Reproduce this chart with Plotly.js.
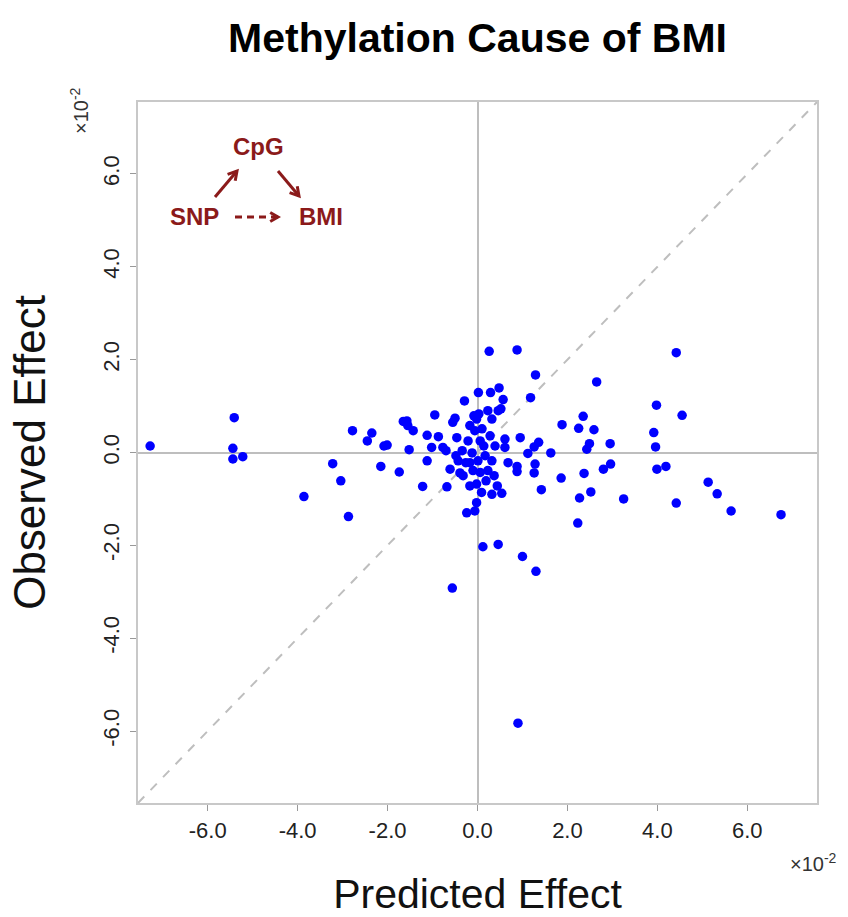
<!DOCTYPE html>
<html><head><meta charset="utf-8">
<script src="https://cdn.plot.ly/plotly-3.0.1.min.js"></script>
<style>html,body{margin:0;padding:0;background:#fff}#chart{width:848px;height:917px}</style>
</head><body><div id="chart"></div>
<script>
// values in units of 1e-2
const predicted = [-7.28,-5.41,-5.44,-5.44,-5.22,-3.86,-3.22,-3.04,-2.87,-2.78,-2.35,-2.45,-2.08,-2.01,-2.15,-1.74,-1.65,-1.57,-1.55,-1.43,-1.52,-1.22,-1.12,-0.95,-1.02,-0.87,-1.12,-0.77,-0.70,-0.68,-0.61,-0.56,-0.50,-0.55,-0.46,-0.43,-0.29,-0.24,-0.06,-0.02,0.12,0.46,1.00,1.30,0.90,0.02,0.29,0.48,0.57,0.26,0.88,1.29,1.18,0.46,0.52,0.03,-0.02,0.32,0.95,0.61,0.61,1.36,1.26,1.12,1.63,0.88,0.88,1.28,1.26,1.86,1.42,0.54,0.32,0.44,1.88,2.25,2.35,2.59,2.65,2.49,2.43,2.95,2.37,2.80,2.96,2.52,2.27,2.23,3.25,3.92,3.98,3.96,3.99,4.19,4.42,4.55,4.42,5.13,5.33,5.64,6.75,-0.32,-0.10,0.06,0.23,-0.02,0.09,-0.17,-0.06,0.10,-0.21,0.06,0.28,0.39,-0.34,-0.12,0.17,0.01,0.32,-0.26,-0.39,0.37,0.19,-0.17,0.14,-0.08,0.23,-0.48,-0.17,0.68];
const observed = [0.14,0.75,0.09,-0.14,-0.09,-0.95,-0.24,-0.61,-1.38,0.47,0.42,0.25,0.14,0.16,-0.30,-0.42,0.67,0.68,0.58,0.47,0.06,-0.73,0.37,0.81,0.11,0.34,-0.18,0.11,0.04,-0.74,-0.36,-2.92,0.74,0.65,0.32,-0.18,1.11,-1.30,-1.26,-1.08,-2.03,-1.98,-2.24,-2.56,-5.83,1.29,1.29,1.39,1.14,2.18,2.21,1.67,1.18,0.90,0.94,0.83,0.72,0.72,0.32,0.29,0.11,0.22,0.12,-0.02,-0.01,-0.30,-0.41,-0.25,-0.44,-0.55,-0.80,-0.88,-0.90,-0.72,0.60,0.52,0.78,0.49,1.52,0.19,0.07,0.19,-0.45,-0.36,-0.25,-0.85,-0.98,-1.52,-1.00,0.43,1.02,0.12,-0.36,-0.30,2.15,0.80,-1.09,-0.64,-0.89,-1.26,-1.34,-0.50,-0.39,-0.43,-0.39,-0.68,-0.86,0.58,0.47,0.51,0.25,0.25,0.36,0.14,0.04,-0.01,-0.07,-0.18,-0.18,-0.22,-0.44,-0.50,-0.61,-0.72,0.14,0.79,0.90,-0.07,-0.22,-0.22];
const tickValues = [-6, -4, -2, 0, 2, 4, 6];
const tickLabels = ["-6.0", "-4.0", "-2.0", "0.0", "2.0", "4.0", "6.0"];
const axisLimits = [-7.55, 7.55];
const chartTitle = "Methylation Cause of BMI";
const xTitle = "Predicted Effect";
const yTitle = "Observed Effect";
const multiplier = "×10<sup>-2</sup>";

const W = 848, H = 917, M = {l: 138, r: 31, t: 102, b: 114};
const pw = W - M.l - M.r, ph = H - M.t - M.b;
const px = v => (v - M.l) / pw;          // pixel -> paper x
const py = v => (H - M.b - v) / ph;      // pixel -> paper y
const red = "#8b1a1a", grey = "#bebebe";
const font = "Liberation Sans, Arial, Helvetica, sans-serif";

function arrowPath(x0, y0, x1, y1, head) {
  const a = Math.atan2(y1 - y0, x1 - x0), s = Math.PI / 6;
  const hx1 = x1 - head * Math.cos(a - s), hy1 = y1 - head * Math.sin(a - s);
  const hx2 = x1 - head * Math.cos(a + s), hy2 = y1 - head * Math.sin(a + s);
  return {
    line: `M${px(x0)},${py(y0)} L${px(x1)},${py(y1)}`,
    head: `M${px(hx1)},${py(hy1)} L${px(x1)},${py(y1)} L${px(hx2)},${py(hy2)}`
  };
}
const a1 = arrowPath(215, 197, 237, 171, 10);
const a2 = arrowPath(278, 171, 299, 196, 10);
const a3 = arrowPath(235, 217, 278, 217, 9);

const shapes = [
  {type: "line", xref: "x", yref: "y", x0: axisLimits[0], y0: axisLimits[0], x1: axisLimits[1], y1: axisLimits[1],
   line: {color: grey, width: 2, dash: "dash"}, layer: "below"},
  {type: "path", xref: "paper", yref: "paper", path: a1.line, line: {color: red, width: 3}},
  {type: "path", xref: "paper", yref: "paper", path: a1.head, line: {color: red, width: 3}},
  {type: "path", xref: "paper", yref: "paper", path: a2.line, line: {color: red, width: 3}},
  {type: "path", xref: "paper", yref: "paper", path: a2.head, line: {color: red, width: 3}},
  {type: "path", xref: "paper", yref: "paper", path: a3.line, line: {color: red, width: 3, dash: "7px,5px"}},
  {type: "path", xref: "paper", yref: "paper", path: a3.head, line: {color: red, width: 3}}
];

const ann = (text, x, y, size, color, extra) => Object.assign({
  text: text, xref: "paper", yref: "paper", x: px(x), y: py(y), xanchor: "center", yanchor: "middle",
  showarrow: false, font: {family: font, size: size, color: color}
}, extra || {});

const annotations = [
  ann("<b>CpG</b>", 258, 147, 24, red),
  ann("<b>SNP</b>", 194, 216, 24, red),
  ann("<b>BMI</b>", 321, 216, 24, red),
  ann(multiplier, 79, 111, 20, "#333", {textangle: -90}),
  ann(multiplier, 813, 862, 20, "#333")
];

const trace = {
  x: predicted, y: observed, type: "scatter", mode: "markers",
  marker: {color: "#0000ff", size: 9.5, line: {width: 0}},
  hoverinfo: "x+y", showlegend: false
};

const axisCommon = {
  range: axisLimits, tickvals: tickValues, ticktext: tickLabels,
  showgrid: false, zeroline: true, zerolinecolor: grey, zerolinewidth: 2,
  showline: true, mirror: true, linecolor: "#c8c8c8", linewidth: 2,
  ticks: "outside", ticklen: 6, tickwidth: 1, tickcolor: "#999",
  tickfont: {family: font, size: 22, color: "#222"}, automargin: false
};

const layout = {
  width: W, height: H, margin: M,
  paper_bgcolor: "#fff", plot_bgcolor: "#fff",
  title: {text: "<b>" + chartTitle + "</b>", x: 0.5, xref: "paper", xanchor: "center", y: 1 - 38 / H, yref: "container", yanchor: "middle",
          font: {family: font, size: 41, color: "#000"}},
  xaxis: Object.assign({}, axisCommon, {title: {text: xTitle, font: {family: font, size: 41, color: "#111"}, standoff: 37}, ticklabelstandoff: 1}),
  yaxis: Object.assign({}, axisCommon, {tickangle: -90, title: {text: yTitle, font: {family: font, size: 44, color: "#111"}, standoff: 40}, ticklabelstandoff: 2}),
  shapes: shapes, annotations: annotations
};

Plotly.newPlot("chart", [trace], layout, {displayModeBar: false, staticPlot: true});
</script>
</body></html>
